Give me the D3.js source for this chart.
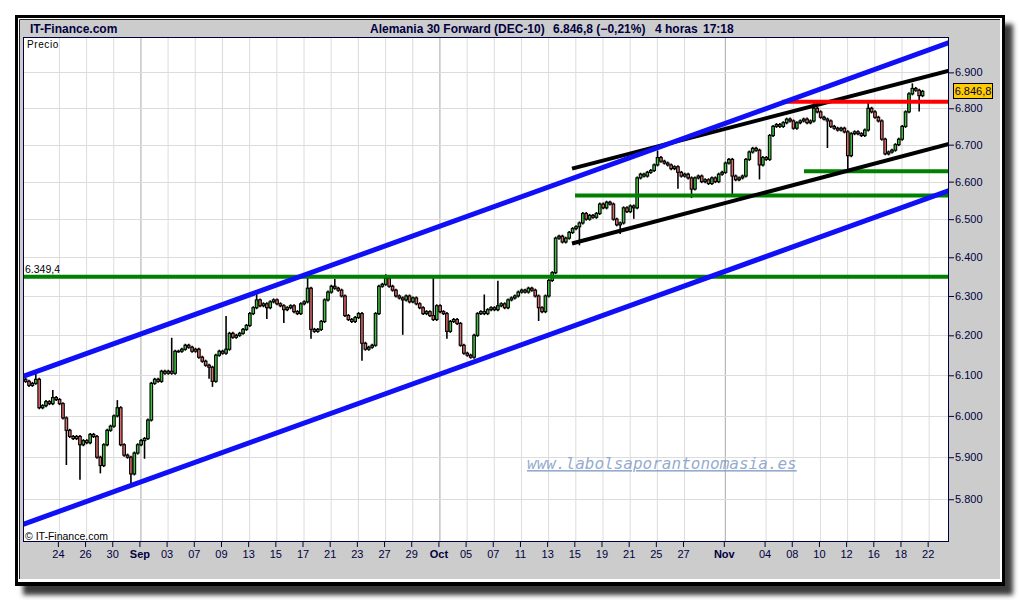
<!DOCTYPE html>
<html>
<head>
<meta charset="utf-8">
<script src="https://cdn.jsdelivr.net/npm/d3@7"></script>
<style>
  body { margin: 0; background: #fff; }
  svg { display: block; }
</style>
</head>
<body>
<svg width="1020" height="600"></svg>
<script>
// x is counted in trading days, 0 = Mon 23 Aug 2010, weekends left out
const tickDays = [1, 3, 5, 7, 9, 11, 13, 15, 17, 19, 21, 23, 25, 27, 29, 31, 33, 35, 37, 39, 41, 43, 45, 47, 50, 53, 55, 57, 59, 61, 63, 65];
const tickLabels = ["24", "26", "30", "Sep", "03", "07", "09", "13", "15", "17", "21", "23", "27", "29", "Oct", "05", "07", "11", "13", "15", "19", "21", "25", "27", "Nov", "04", "08", "10", "12", "16", "18", "22"];
const monthLabels = ["Sep", "Oct", "Nov"];
const priceTicks = [5800, 5900, 6000, 6100, 6200, 6300, 6400, 6500, 6600, 6700, 6800, 6900];

// 4-hour candles, 4 per day, first one in the afternoon of Fri 20 Aug
const firstBarDay = -1.5;
const barsPerDay = 4;
const firstOpen = 6090;
const closes = [
  6085, 6075,                    // 20 Aug
  6080, 6090, 6020, 6025,        // 23
  6035, 6030, 6045, 6040,        // 24
  6030, 5995, 5965, 5950,        // 25
  5945, 5950, 5930, 5940,        // 26
  5935, 5955, 5950, 5900,        // 27
  5880, 5930, 5965, 5975,        // 30
  6000, 6020, 5930, 5905,        // 31
  5900, 5860, 5910, 5930,        // 1 Sep
  5940, 5945, 5990, 6080,        // 2
  6090, 6085, 6110, 6105,        // 3
  6110, 6105, 6160, 6160,        // 6
  6165, 6175, 6170, 6160,        // 7
  6165, 6145, 6135, 6125,        // 8
  6120, 6085, 6150, 6160,        // 9
  6155, 6165, 6205, 6195,        // 10
  6200, 6205, 6215, 6225,        // 13
  6255, 6270, 6290, 6275,        // 14
  6280, 6270, 6285, 6290,        // 15
  6280, 6275, 6265, 6270,        // 16
  6275, 6260, 6255, 6280,        // 17
  6285, 6320, 6215, 6210,        // 20
  6215, 6235, 6290, 6310,        // 21
  6325, 6320, 6315, 6300,        // 22
  6250, 6240, 6235, 6245,        // 23
  6255, 6180, 6165, 6170,        // 24
  6175, 6255, 6325, 6330,        // 27
  6345, 6325, 6315, 6300,        // 28
  6295, 6290, 6300, 6285,        // 29
  6295, 6280, 6270, 6255,        // 30
  6260, 6250, 6240, 6275,        // 1 Oct
  6260, 6255, 6210, 6235,        // 4
  6240, 6230, 6175, 6155,        // 5
  6150, 6145, 6200, 6255,        // 6
  6260, 6255, 6265, 6270,        // 7
  6265, 6275, 6280, 6270,        // 8
  6290, 6295, 6300, 6310,        // 11
  6315, 6310, 6320, 6315,        // 12
  6300, 6270, 6260, 6300,        // 13
  6340, 6360, 6450, 6455,        // 14
  6440, 6450, 6465, 6475,        // 15
  6480, 6490, 6515, 6500,        // 18
  6510, 6505, 6515, 6540,        // 19
  6530, 6545, 6540, 6500,        // 20
  6485, 6490, 6530, 6520,        // 21
  6535, 6530, 6610, 6620,        // 22
  6615, 6625, 6630, 6645,        // 25
  6665, 6655, 6650, 6645,        // 26
  6635, 6640, 6625, 6615,        // 27
  6620, 6610, 6580, 6610,        // 28
  6615, 6600, 6605, 6595,        // 29
  6610, 6600, 6620, 6625,        // 1 Nov
  6650, 6660, 6615, 6605,        // 2
  6610, 6615, 6660, 6680,        // 3
  6690, 6685, 6645, 6665,        // 4
  6660, 6725, 6750, 6755,        // 5
  6750, 6760, 6770, 6765,        // 8
  6745, 6760, 6765, 6770,        // 9
  6760, 6765, 6800, 6790,        // 10
  6775, 6770, 6765, 6750,        // 11
  6745, 6740, 6745, 6735,        // 12
  6670, 6730, 6735, 6730,        // 15
  6725, 6740, 6800, 6790,        // 16
  6775, 6765, 6715, 6675,        // 17
  6680, 6685, 6700, 6715,        // 18
  6750, 6790, 6840, 6855,        // 19
  6850, 6835, 6846.8             // 22
];
// long shadows that reach past the bodies: [bar, price]
const wickHighs = [[3, 6100], [8, 6060], [27, 6035], [43, 6190], [59, 6245], [68, 6305], [83, 6345], [91, 6340],
  [106, 6352], [120, 6348], [135, 6300], [139, 6335], [186, 6680], [232, 6810], [248, 6815], [261, 6865]];
const wickLows = [[12, 5885], [16, 5850], [22, 5865], [31, 5835], [35, 5900], [54, 6095], [55, 6075], [71, 6245],
  [76, 6235], [84, 6195], [99, 6140], [111, 6205], [124, 6195], [151, 6240], [163, 6435], [175, 6465], [179, 6505],
  [192, 6585], [196, 6560], [208, 6570], [216, 6610], [236, 6695], [242, 6630], [263, 6795]];

// drawn trend lines: [day0, price0, day1, price1]
const blueLines = [[-1.567, 6097, 66.57, 6984], [-1.567, 5741, 66.57, 6576]];
const blackLines = [[38.83, 6635, 66.57, 6905], [38.83, 6436, 66.57, 6702]];
const redLines = [[54.28, 6818, 66.57, 6818]];
const greenLines = [[-1.567, 6349.4, 66.57, 6349.4], [39.05, 6563, 66.57, 6563], [55.9, 6628, 66.57, 6628]];
const pctChange = -0.21;

const svg = d3.select("svg");
const font = "'Liberation Sans', Arial, sans-serif";
const navy = "#000040";
const es = d3.formatLocale({ decimal: ",", thousands: ".", grouping: [3], currency: ["", ""] });
const fmtInt = es.format(",d");
const fmt1 = es.format(",.1f");
const fmtPct = es.format(".2f");

const pL = 23, pR = 949, pT = 37, pB = 542;
const x = d3.scaleLinear().domain([-1.567, 66.57]).range([pL, pR]);
const y = d3.scaleLog().domain([5700, 7000]).range([pB, pT]);

// frame with drop shadow
const defs = svg.append("defs");
defs.append("filter").attr("id", "blur").append("feGaussianBlur").attr("stdDeviation", 2.5);
defs.append("clipPath").attr("id", "plotclip").append("rect")
  .attr("x", pL).attr("y", pT).attr("width", pR - pL).attr("height", pB - pT);

svg.append("rect").attr("x", 23).attr("y", 24).attr("width", 990).attr("height", 571)
  .attr("fill", "#3a3a3a").attr("filter", "url(#blur)");
svg.append("rect").attr("x", 15).attr("y", 15).attr("width", 990).attr("height", 571).attr("fill", "#000");
svg.append("rect").attr("x", 18).attr("y", 18).attr("width", 984).attr("height", 564).attr("fill", "#fff");
svg.append("rect").attr("x", 19).attr("y", 19).attr("width", 981).attr("height", 560).attr("fill", "#cccccc");
svg.append("path").attr("d", "M19.5,579V19.5H1000").attr("fill", "none").attr("stroke", "#222");

svg.append("rect").attr("x", pL).attr("y", pT).attr("width", pR - pL).attr("height", pB - pT)
  .attr("fill", "#fff");

// header
svg.append("text").attr("x", 30).attr("y", 33).attr("font-family", font).attr("font-size", 12)
  .attr("font-weight", "bold").attr("fill", navy).text("IT-Finance.com");
const lastClose = closes[closes.length - 1];
const header = [
  [370, "Alemania 30 Forward (DEC-10)"],
  [553, fmt1(lastClose) + " (" + fmtPct(pctChange) + "%)"],
  [655, "4 horas"],
  [703, "17:18"]
];
svg.selectAll(".hdr").data(header).enter().append("text")
  .attr("x", d => d[0]).attr("y", 33).attr("font-family", font).attr("font-size", 12)
  .attr("font-weight", "bold").attr("fill", navy).text(d => d[1]);

// grid
const grid = svg.append("g");
grid.selectAll(".vg").data(tickDays).enter().append("line")
  .attr("x1", d => x(d) + 1.5).attr("x2", d => x(d) + 1.5).attr("y1", pT).attr("y2", pB)
  .attr("stroke", (d, i) => monthLabels.includes(tickLabels[i]) ? "#a8a8a8" : "#dcdcdc");
grid.selectAll(".hg").data(priceTicks).enter().append("line")
  .attr("x1", pL).attr("x2", pR).attr("y1", d => Math.round(y(d)) + 0.5).attr("y2", d => Math.round(y(d)) + 0.5)
  .attr("stroke", "#dcdcdc");

// watermark
svg.append("text").attr("x", 527).attr("y", 469)
  .attr("font-family", "'DejaVu Sans Mono', monospace").attr("font-size", 16).attr("font-style", "italic")
  .attr("text-decoration", "underline").attr("fill", "#7f9cc6").attr("fill-opacity", 0.85)
  .text("www.labolsaporantonomasia.es");

svg.append("text").attr("x", 27).attr("y", 48).attr("font-family", font).attr("font-size", 10)
  .attr("letter-spacing", 0.6).attr("fill", "#000").text("Precio");
svg.append("text").attr("x", 25).attr("y", 540).attr("font-family", font).attr("font-size", 10.5)
  .attr("fill", "#000").text("\u00a9 IT-Finance.com");

// candles
const hiMap = new Map(wickHighs), loMap = new Map(wickLows);
const bars = closes.map((c, i) => {
  const o = i === 0 ? firstOpen : closes[i - 1];
  const h = Math.max(o, c, hiMap.get(i) || 0);
  const l = Math.min(o, c, loMap.get(i) || Infinity);
  return { t: firstBarDay + (i + 0.5) / barsPerDay, o, c, h, l };
});

const plot = svg.append("g").attr("clip-path", "url(#plotclip)");
const cg = plot.selectAll(".bar").data(bars).enter().append("g");
cg.append("line")
  .attr("x1", d => x(d.t)).attr("x2", d => x(d.t))
  .attr("y1", d => y(d.h) - 1.5).attr("y2", d => y(d.l) + 1.5)
  .attr("stroke", "#000").attr("stroke-width", 1.6);
cg.append("rect")
  .attr("x", d => x(d.t) - 1.3).attr("width", 2.6)
  .attr("y", d => y(Math.max(d.o, d.c)))
  .attr("height", d => Math.max(0.6, y(Math.min(d.o, d.c)) - y(Math.max(d.o, d.c))))
  .attr("fill", d => d.c >= d.o ? "#3fc23f" : "#dc6a6a")
  .attr("stroke", "#000").attr("stroke-width", 1.1);

// trend lines
function drawLines(data, color, width) {
  plot.selectAll(null).data(data).enter().append("line")
    .attr("x1", d => x(d[0])).attr("y1", d => y(d[1]))
    .attr("x2", d => x(d[2])).attr("y2", d => y(d[3]))
    .attr("stroke", color).attr("stroke-width", width);
}
drawLines(greenLines, "#008000", 4);
drawLines(blackLines, "#000", 4);
drawLines(redLines, "#ff0000", 4);
drawLines(blueLines, "#1010f8", 5);

svg.append("text").attr("x", 25).attr("y", 273).attr("font-family", font).attr("font-size", 10.5)
  .attr("fill", "#000").text(fmt1(greenLines[0][1]));

// plot border
svg.append("rect").attr("x", pL + 0.5).attr("y", pT + 0.5).attr("width", pR - pL - 1)
  .attr("height", pB - pT - 1).attr("fill", "none").attr("stroke", navy);

// axes
const xAxis = svg.append("g").attr("transform", `translate(0,${pB})`)
  .call(d3.axisBottom(x).tickValues(tickDays).tickSize(5).tickPadding(3)
    .tickFormat((d, i) => tickLabels[i]));
xAxis.select(".domain").remove();
xAxis.selectAll("line").attr("stroke", navy);
xAxis.selectAll("text").attr("font-family", font).attr("font-size", 11).attr("fill", navy)
  .attr("font-weight", d => monthLabels.includes(tickLabels[tickDays.indexOf(d)]) ? "bold" : "normal");

const yAxis = svg.append("g").attr("transform", `translate(${pR},0)`)
  .call(d3.axisRight(y).tickValues(priceTicks).tickSize(5).tickPadding(1).tickFormat(fmtInt));
yAxis.select(".domain").remove();
yAxis.selectAll("line").attr("stroke", navy);
yAxis.selectAll("text").attr("font-family", font).attr("font-size", 11).attr("fill", navy);

// last price tag
const py = y(lastClose);
svg.append("rect").attr("x", 953.5).attr("y", Math.round(py) - 7.5).attr("width", 39).attr("height", 15)
  .attr("fill", "#ffcc00").attr("stroke", "#000");
svg.append("text").attr("x", 973).attr("y", Math.round(py) + 4).attr("text-anchor", "middle")
  .attr("font-family", font).attr("font-size", 11).attr("fill", navy).text(fmt1(lastClose));
</script>
</body>
</html>
